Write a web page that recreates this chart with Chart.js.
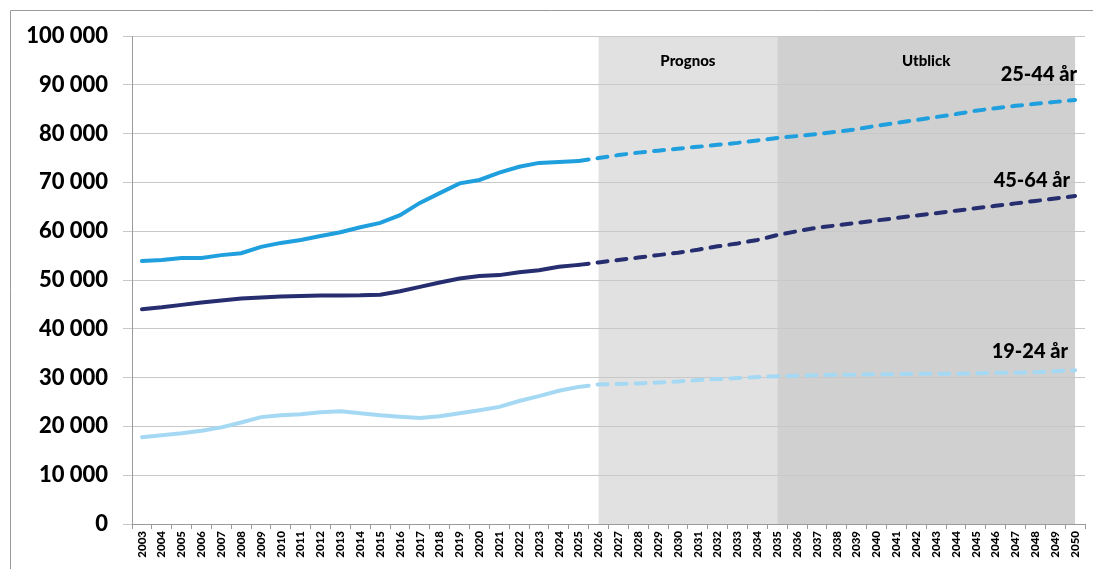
<!DOCTYPE html>
<html>
<head>
<meta charset="utf-8">
<script src="https://cdn.jsdelivr.net/npm/chart.js@4"></script>
<style>
  body { margin: 0; background: #fff; }
  #wrap { width: 1093px; height: 569px; position: relative; }
</style>
</head>
<body>
<div id="wrap"><canvas id="chart"></canvas></div>
<script>
var years = [];
for (var yr = 2003; yr <= 2050; yr++) years.push(String(yr));

var age2544 = [53900, 54100, 54500, 54500, 55100, 55500, 56800, 57600, 58200, 59000,
  59800, 60800, 61700, 63300, 65800, 67800, 69800, 70500, 72000, 73200,
  74000, 74200, 74400, 75000, 75600, 76100, 76500, 76900, 77300, 77700,
  78100, 78600, 79100, 79500, 79900, 80400, 80900, 81600, 82200, 82800,
  83400, 84000, 84700, 85200, 85700, 86100, 86500, 86900];
var age4564 = [44000, 44400, 44900, 45400, 45800, 46200, 46400, 46600, 46700, 46800,
  46800, 46850, 47000, 47700, 48600, 49500, 50300, 50800, 51000, 51600,
  52000, 52700, 53100, 53600, 54100, 54600, 55100, 55600, 56200, 56900,
  57500, 58200, 59200, 60000, 60700, 61200, 61700, 62200, 62700, 63200,
  63700, 64200, 64700, 65200, 65700, 66200, 66700, 67200];
var age1924 = [17800, 18200, 18600, 19100, 19800, 20800, 21900, 22300, 22500, 22900,
  23100, 22700, 22300, 22000, 21700, 22100, 22700, 23300, 24000, 25200,
  26200, 27300, 28100, 28600, 28700, 28800, 29000, 29200, 29500, 29700,
  29900, 30100, 30300, 30400, 30500, 30600, 30600, 30700, 30700, 30800,
  30800, 30800, 30900, 31000, 31000, 31100, 31300, 31500];

var lastActual = '2025';
var prognosStart = '2026', utblickStart = '2035', utblickEnd = '2050';

var fontFam = 'Lato, "Noto Sans", sans-serif';
var cut = years.indexOf(lastActual);

function fmt(v) {
  return String(v).replace(/\B(?=(\d{3})+(?!\d))/g, ' ');
}

function series(label, data, color) {
  return {
    label: label,
    data: data,
    borderColor: color,
    backgroundColor: color,
    borderWidth: 4,
    pointRadius: 0,
    tension: 0,
    borderCapStyle: 'round',
    segment: {
      borderDash: function(ctx) { return ctx.p0DataIndex >= cut ? [10, 9] : undefined; }
    }
  };
}

var shading = {
  id: 'shading',
  beforeDraw: function(chart) {
    var c = chart.ctx, a = chart.chartArea, x = chart.scales.x;
    var x1 = x.getPixelForValue(years.indexOf(prognosStart));
    var x2 = x.getPixelForValue(years.indexOf(utblickStart));
    var x3 = x.getPixelForValue(years.indexOf(utblickEnd));
    c.save();
    c.fillStyle = '#e1e1e1';
    c.fillRect(x1, a.top, x2 - x1, a.bottom - a.top);
    c.fillStyle = '#d0d0d0';
    c.fillRect(x2, a.top, x3 - x2, a.bottom - a.top);
    // outer frame
    c.strokeStyle = '#9a9a9a';
    c.lineWidth = 1;
    c.beginPath();
    c.moveTo(10.5, chart.height);
    c.lineTo(10.5, 10.5);
    c.lineTo(chart.width, 10.5);
    c.stroke();
    c.restore();
  },
  afterDraw: function(chart) {
    var c = chart.ctx, a = chart.chartArea, x = chart.scales.x, y = chart.scales.y;
    var x1 = x.getPixelForValue(years.indexOf(prognosStart));
    var x2 = x.getPixelForValue(years.indexOf(utblickStart));
    var x3 = x.getPixelForValue(years.indexOf(utblickEnd));
    c.save();
    c.fillStyle = '#000';
    c.textAlign = 'center';
    c.textBaseline = 'middle';
    c.font = '900 15px ' + fontFam;
    c.fillText('Prognos', (x1 + x2) / 2, a.top + 25);
    c.fillText('Utblick', (x2 + x3) / 2, a.top + 25);
    c.font = '900 20px ' + fontFam;
    c.textAlign = 'right';
    var n = years.length - 1;
    c.fillText('25-44 år', x3 + 2, y.getPixelForValue(age2544[n]) - 25);
    c.fillText('45-64 år', x3 - 5, y.getPixelForValue(age4564[n]) - 16);
    c.fillText('19-24 år', x3 - 7, y.getPixelForValue(age1924[n]) - 19);
    c.restore();
  }
};

new Chart(document.getElementById('chart').getContext('2d'), {
  type: 'line',
  data: {
    labels: years,
    datasets: [
      series('25-44 år', age2544, '#1f9fdd'),
      series('45-64 år', age4564, '#262e6f'),
      series('19-24 år', age1924, '#a5d9f3')
    ]
  },
  plugins: [shading],
  options: {
    responsive: true,
    maintainAspectRatio: false,
    animation: false,
    layout: { padding: { left: 10, top: 36, right: 8, bottom: 0 } },
    plugins: {
      legend: { display: false },
      tooltip: { enabled: false }
    },
    scales: {
      x: {
        offset: true,
        grid: { offset: true, drawOnChartArea: false, drawTicks: true, tickLength: 5, color: '#9a9a9a' },
        border: { color: '#9a9a9a' },
        ticks: {
          minRotation: 90, maxRotation: 90, autoSkip: false, padding: 2,
          color: '#000', font: { family: fontFam, size: 11.5, weight: 900 }
        },
        afterFit: function(s) { s.height = 45; }
      },
      y: {
        min: 0, max: 100000,
        grid: { color: '#c8c8c8', tickLength: 9 },
        border: { color: '#9a9a9a' },
        ticks: {
          stepSize: 10000, padding: 15, color: '#000',
          font: { family: fontFam, size: 22, weight: 900 },
          callback: function(v) { return fmt(v); }
        },
        afterFit: function(s) { s.width = 122; }
      }
    }
  }
});
</script>
</body>
</html>
